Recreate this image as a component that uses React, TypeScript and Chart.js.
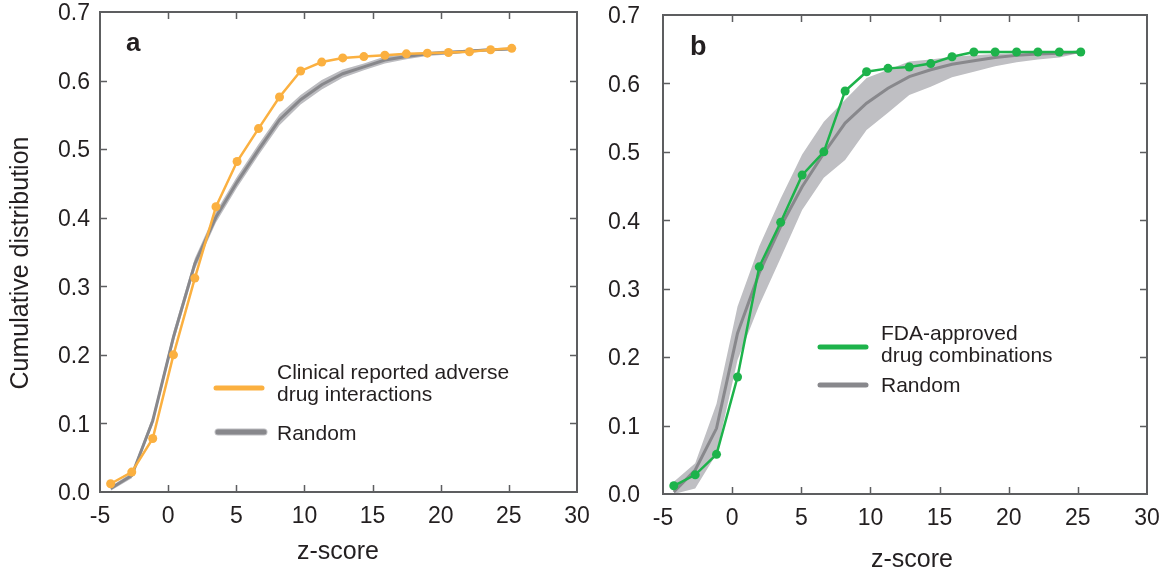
import React, { useEffect, useRef } from "react";
import { Chart, registerables } from "chart.js";

Chart.register(...registerables);

// z-score bins shared by both panels
const zScores = [-4.22, -2.67, -1.13, 0.39, 1.96, 3.51, 5.06, 6.63, 8.17, 9.72, 11.27, 12.81, 14.36, 15.9, 17.48, 19.02, 20.57, 22.11, 23.66, 25.21];

// Panel a: clinically reported adverse drug interactions vs random pairs
const adverseCdf = [0.012, 0.029, 0.078, 0.2, 0.312, 0.416, 0.482, 0.53, 0.576, 0.614, 0.627, 0.633, 0.635, 0.637, 0.639, 0.64, 0.641, 0.642, 0.645, 0.647];
const randomA = [0.005, 0.024, 0.104, 0.226, 0.333, 0.401, 0.452, 0.499, 0.543, 0.572, 0.594, 0.61, 0.62, 0.63, 0.635, 0.639, 0.641, 0.643, 0.645, 0.646];
const randomAUpper = [0.008, 0.028, 0.11, 0.234, 0.341, 0.409, 0.46, 0.507, 0.551, 0.579, 0.601, 0.616, 0.625, 0.635, 0.639, 0.642, 0.644, 0.645, 0.647, 0.647];
const randomALower = [0.002, 0.02, 0.098, 0.218, 0.325, 0.393, 0.444, 0.491, 0.535, 0.565, 0.587, 0.604, 0.615, 0.625, 0.631, 0.636, 0.638, 0.641, 0.643, 0.645];

// Panel b: FDA-approved drug combinations vs random pairs
const fdaCdf = [0.012, 0.028, 0.058, 0.171, 0.332, 0.397, 0.466, 0.5, 0.589, 0.617, 0.622, 0.624, 0.629, 0.639, 0.646, 0.646, 0.646, 0.646, 0.646, 0.646];
const randomB = [0.003, 0.035, 0.096, 0.235, 0.323, 0.391, 0.449, 0.498, 0.542, 0.571, 0.593, 0.61, 0.62, 0.628, 0.633, 0.638, 0.641, 0.643, 0.644, 0.646];
const randomBUpper = [0.018, 0.045, 0.132, 0.274, 0.362, 0.432, 0.496, 0.544, 0.576, 0.608, 0.62, 0.632, 0.635, 0.639, 0.641, 0.643, 0.644, 0.645, 0.646, 0.647];
const randomBLower = [0.0, 0.008, 0.059, 0.196, 0.276, 0.345, 0.415, 0.462, 0.488, 0.532, 0.557, 0.583, 0.595, 0.609, 0.617, 0.625, 0.631, 0.635, 0.638, 0.645];

// Axis ranges and tick steps
const xRange = [-5, 30];
const xStep = 5;
const yRange = [0, 0.7];
const yStep = 0.1;

const FONT = '"Liberation Sans", Arial, Helvetica, sans-serif';
const INK = "#231f20";
const FRAME = "#5d5e60";
const ORANGE = "#fbb040";
const GREEN = "#1db34b";
const RANDOM_LINE = "#88888c";
const RANDOM_HALO = "#bdbdc1";

type LegendEntry = {
  color: string;
  halo?: string;
  x1: number;
  x2: number;
  y: number;
  textX: number;
  lines: string[];
  lineYs: number[];
};

type Decor = {
  letter: string;
  letterX: number;
  letterY: number;
  letterSize: number;
  xTitleX: number;
  xTitleY: number;
  yTitle?: { x: number; y: number };
  yLabelGap: number;
  legend: LegendEntry[];
};

const pts = (ys: number[]) => zScores.map((x, i) => ({ x, y: ys[i] }));

// Frame, inward ticks, tick labels, titles, panel letter and legend
const panelDecor = {
  id: "panelDecor",
  afterDraw(chart: any, _args: any, opts: Decor) {
    const ctx: CanvasRenderingContext2D = chart.ctx;
    const { left, right, top, bottom } = chart.chartArea;
    const xs = chart.scales.x;
    const ys = chart.scales.y;
    const tickLen = 7;
    ctx.save();

    // inward tick marks on all four sides
    ctx.strokeStyle = FRAME;
    ctx.lineWidth = 1.5;
    ctx.beginPath();
    xs.ticks.forEach((t: any) => {
      if (t.value <= xRange[0] || t.value >= xRange[1]) return;
      const px = Math.round(xs.getPixelForValue(t.value)) + 0.5;
      ctx.moveTo(px, bottom);
      ctx.lineTo(px, bottom - tickLen);
      ctx.moveTo(px, top);
      ctx.lineTo(px, top + tickLen);
    });
    ys.ticks.forEach((t: any) => {
      if (t.value <= yRange[0] + 1e-9 || t.value >= yRange[1] - 1e-9) return;
      const py = Math.round(ys.getPixelForValue(t.value)) + 0.5;
      ctx.moveTo(left, py);
      ctx.lineTo(left + tickLen, py);
      ctx.moveTo(right, py);
      ctx.lineTo(right - tickLen, py);
    });
    ctx.stroke();

    // frame
    ctx.lineWidth = 2;
    ctx.strokeRect(left, top, right - left, bottom - top);

    // tick labels
    ctx.fillStyle = INK;
    ctx.font = `23px ${FONT}`;
    ctx.textAlign = "center";
    ctx.textBaseline = "middle";
    xs.ticks.forEach((t: any) => {
      ctx.fillText(String(t.value), xs.getPixelForValue(t.value), bottom + 25);
    });
    ctx.textAlign = "right";
    ys.ticks.forEach((t: any) => {
      ctx.fillText(t.value.toFixed(1), left - opts.yLabelGap, ys.getPixelForValue(t.value) + 2);
    });

    // axis titles
    ctx.font = `25px ${FONT}`;
    ctx.textAlign = "center";
    ctx.fillText("z-score", opts.xTitleX, opts.xTitleY);
    if (opts.yTitle) {
      ctx.save();
      ctx.translate(opts.yTitle.x, opts.yTitle.y);
      ctx.rotate(-Math.PI / 2);
      ctx.fillText("Cumulative distribution", 0, 0);
      ctx.restore();
    }

    // panel letter
    ctx.font = `bold ${opts.letterSize}px ${FONT}`;
    ctx.textAlign = "left";
    ctx.textBaseline = "alphabetic";
    ctx.fillText(opts.letter, opts.letterX, opts.letterY);

    // legend
    ctx.lineCap = "round";
    opts.legend.forEach((e) => {
      if (e.halo) {
        ctx.strokeStyle = e.halo;
        ctx.lineWidth = 7;
        ctx.beginPath();
        ctx.moveTo(e.x1, e.y);
        ctx.lineTo(e.x2, e.y);
        ctx.stroke();
      }
      ctx.strokeStyle = e.color;
      ctx.lineWidth = 5;
      ctx.beginPath();
      ctx.moveTo(e.x1, e.y);
      ctx.lineTo(e.x2, e.y);
      ctx.stroke();
      ctx.fillStyle = INK;
      ctx.font = `21px ${FONT}`;
      ctx.textBaseline = "middle";
      e.lines.forEach((s, i) => ctx.fillText(s, e.textX, e.lineYs[i]));
    });

    ctx.restore();
  },
};

type PanelProps = {
  left: number;
  width: number;
  seriesLabel: string;
  seriesColor: string;
  series: number[];
  random: number[];
  upper: number[];
  lower: number[];
  bandColor: string;
  yAxisWidth: number;
  xAxisHeight: number;
  padTop: number;
  padRight: number;
  decor: Decor;
};

function Panel(p: PanelProps) {
  const ref = useRef<HTMLCanvasElement>(null);

  useEffect(() => {
    const chart = new Chart(ref.current as HTMLCanvasElement, {
      type: "line",
      data: {
        datasets: [
          {
            label: p.seriesLabel,
            data: pts(p.series),
            borderColor: p.seriesColor,
            backgroundColor: p.seriesColor,
            borderWidth: 2.5,
            pointRadius: 4.5,
            pointBorderWidth: 0,
            pointBackgroundColor: p.seriesColor,
            fill: false,
            order: 0,
          },
          {
            label: "Random",
            data: pts(p.random),
            borderColor: RANDOM_LINE,
            borderWidth: 3,
            pointRadius: 0,
            fill: false,
            order: 1,
          },
          {
            label: "Random upper",
            data: pts(p.upper),
            borderColor: "rgba(0,0,0,0)",
            borderWidth: 0,
            pointRadius: 0,
            fill: false,
            order: 2,
          },
          {
            label: "Random lower",
            data: pts(p.lower),
            borderColor: "rgba(0,0,0,0)",
            backgroundColor: p.bandColor,
            borderWidth: 0,
            pointRadius: 0,
            fill: "-1",
            order: 3,
          },
        ],
      } as any,
      options: {
        animation: false,
        responsive: true,
        maintainAspectRatio: false,
        events: [],
        layout: { padding: { top: p.padTop, right: p.padRight, left: 0, bottom: 0 } },
        plugins: {
          legend: { display: false },
          tooltip: { enabled: false },
          panelDecor: p.decor,
        } as any,
        scales: {
          x: {
            type: "linear",
            min: xRange[0],
            max: xRange[1],
            ticks: { display: false, stepSize: xStep },
            grid: { display: false, drawTicks: false },
            border: { display: false },
            afterFit: (s: any) => {
              s.height = p.xAxisHeight;
            },
          },
          y: {
            type: "linear",
            min: yRange[0],
            max: yRange[1],
            ticks: { display: false, stepSize: yStep },
            grid: { display: false, drawTicks: false },
            border: { display: false },
            afterFit: (s: any) => {
              s.width = p.yAxisWidth;
            },
          },
        },
      },
      plugins: [panelDecor],
    });
    return () => chart.destroy();
  }, []);

  return (
    <div style={{ position: "absolute", left: p.left, top: 0, width: p.width, height: 573 }}>
      <canvas ref={ref} />
    </div>
  );
}

export default function App() {
  return (
    <div style={{ position: "absolute", left: 0, top: 0, width: 1164, height: 573, background: "#fff" }}>
      <Panel
        left={0}
        width={590}
        seriesLabel="Clinical reported adverse drug interactions"
        seriesColor={ORANGE}
        series={adverseCdf}
        random={randomA}
        upper={randomAUpper}
        lower={randomALower}
        bandColor="#bcbcc0"
        yAxisWidth={100}
        xAxisHeight={81}
        padTop={12}
        padRight={13}
        decor={{
          letter: "a",
          letterX: 126,
          letterY: 51,
          letterSize: 26,
          xTitleX: 338,
          xTitleY: 552,
          yTitle: { x: 21, y: 263 },
          yLabelGap: 10,
          legend: [
            { color: ORANGE, x1: 216, x2: 262, y: 388, textX: 277, lines: ["Clinical reported adverse", "drug interactions"], lineYs: [373, 395] },
            { color: RANDOM_LINE, halo: RANDOM_HALO, x1: 218, x2: 264, y: 432, textX: 277, lines: ["Random"], lineYs: [434] },
          ],
        }}
      />
      <Panel
        left={590}
        width={574}
        seriesLabel="FDA-approved drug combinations"
        seriesColor={GREEN}
        series={fdaCdf}
        random={randomB}
        upper={randomBUpper}
        lower={randomBLower}
        bandColor="#bfbfc3"
        yAxisWidth={73}
        xAxisHeight={79}
        padTop={15}
        padRight={17}
        decor={{
          letter: "b",
          letterX: 100,
          letterY: 55,
          letterSize: 27,
          xTitleX: 322,
          xTitleY: 560,
          yLabelGap: 23,
          legend: [
            { color: GREEN, x1: 230, x2: 276, y: 347, textX: 291, lines: ["FDA-approved", "drug combinations"], lineYs: [334, 356] },
            { color: RANDOM_LINE, x1: 230, x2: 276, y: 385, textX: 291, lines: ["Random"], lineYs: [386] },
          ],
        }}
      />
    </div>
  );
}
